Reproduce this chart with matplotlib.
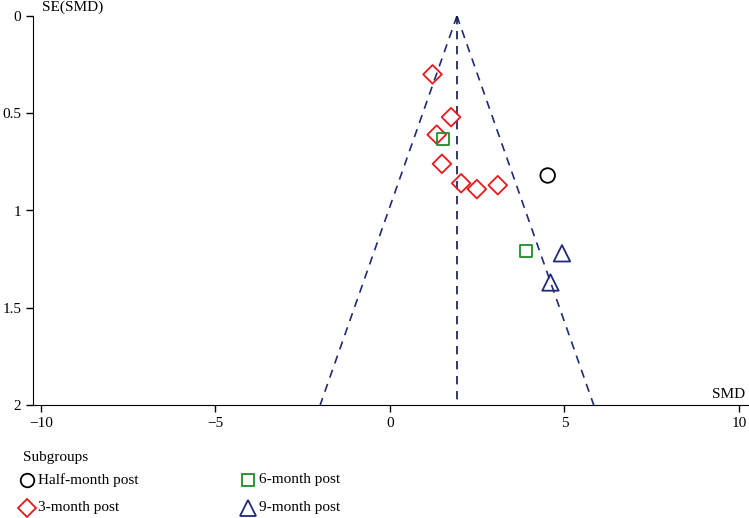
import numpy as np
import matplotlib
matplotlib.use('Agg')
import matplotlib.pyplot as plt

plt.rcParams['font.family'] = ['Liberation Serif', 'DejaVu Serif']

# 데이터
pooled_smd = 1.92

half_smd = [4.52]
half_se = [0.82]

m3_smd = [1.22, 1.75, 1.34, 1.49, 2.04, 2.49, 3.09]
m3_se = [0.30, 0.52, 0.61, 0.76, 0.86, 0.89, 0.87]

m6_smd = [1.53, 3.89]
m6_se = [0.63, 1.21]

m9_smd = [4.93, 4.60]
m9_se = [1.22, 1.37]

x_ticks = [-10, -5, 0, 5, 10]
y_ticks = [0, 0.5, 1, 1.5, 2]
y_tick_labels = ['0', '0.5', '1', '1.5', '2']

navy = '#1f2a78'
red = '#e8191e'
green = '#1e8c2a'

fig = plt.figure(figsize=(7.49, 5.18), dpi=100)
ax = fig.add_axes([33 / 749, 113 / 518, 716 / 749, 389 / 518])

# 깔때기 (95% 신뢰 범위)
se_line = np.array([0, 2])
ax.plot(pooled_smd - 1.96 * se_line, se_line, ls=(0, (5, 4)), color=navy, lw=1.2)
ax.plot(pooled_smd + 1.96 * se_line, se_line, ls=(0, (5, 4)), color=navy, lw=1.2)
ax.plot([pooled_smd, pooled_smd], [0, 2], ls=(0, (5, 4)), color='#10184a', lw=1.2)

ax.scatter(half_smd, half_se, marker='o', s=110, facecolors='none', edgecolors='black', lw=1.3, zorder=3)
ax.scatter(m3_smd, m3_se, marker='D', s=90, facecolors='none', edgecolors=red, lw=1.3, zorder=3)
ax.scatter(m6_smd, m6_se, marker='s', s=75, facecolors='none', edgecolors=green, lw=1.3, zorder=3)
ax.scatter(m9_smd, m9_se, marker='^', s=140, facecolors='none', edgecolors=navy, lw=1.3, zorder=3)

ax.set_xlim(-10.23, 10.29)
ax.set_ylim(2, 0)
ax.set_xticks(x_ticks)
ax.set_xticklabels(['\u221210', '\u22125', '0', '5', '10'])
ax.set_yticks(y_ticks)
ax.set_yticklabels(y_tick_labels)
ax.tick_params(direction='out', length=5, width=1, labelsize=11)
ax.spines['top'].set_visible(False)
ax.spines['right'].set_visible(False)

ax.text(0.012, 1.005, 'SE(SMD)', transform=ax.transAxes, fontsize=11, va='bottom', ha='left')
ax.text(0.995, 0.01, 'SMD', transform=ax.transAxes, fontsize=11, va='bottom', ha='right')

# 범례
fig.text(23 / 749, 1 - 457 / 518, 'Subgroups', fontsize=11, va='center')
legend_items = [
    (27, 480, 'o', 'black', 'Half-month post', 95),
    (27, 508, 'D', red, '3-month post', 80),
    (248, 480, 's', green, '6-month post', 70),
    (248, 508, '^', navy, '9-month post', 120),
]
for px, py, mk, col, label, sz in legend_items:
    fig.add_artist(plt.Line2D([px / 749], [1 - py / 518], marker=mk, markersize=np.sqrt(sz),
                              markerfacecolor='none', markeredgecolor=col, markeredgewidth=1.3,
                              linestyle='none', transform=fig.transFigure))
    fig.text((px + 11) / 749, 1 - py / 518, label, fontsize=11, va='center')

plt.savefig('out.png', dpi=100)
plt.close()
